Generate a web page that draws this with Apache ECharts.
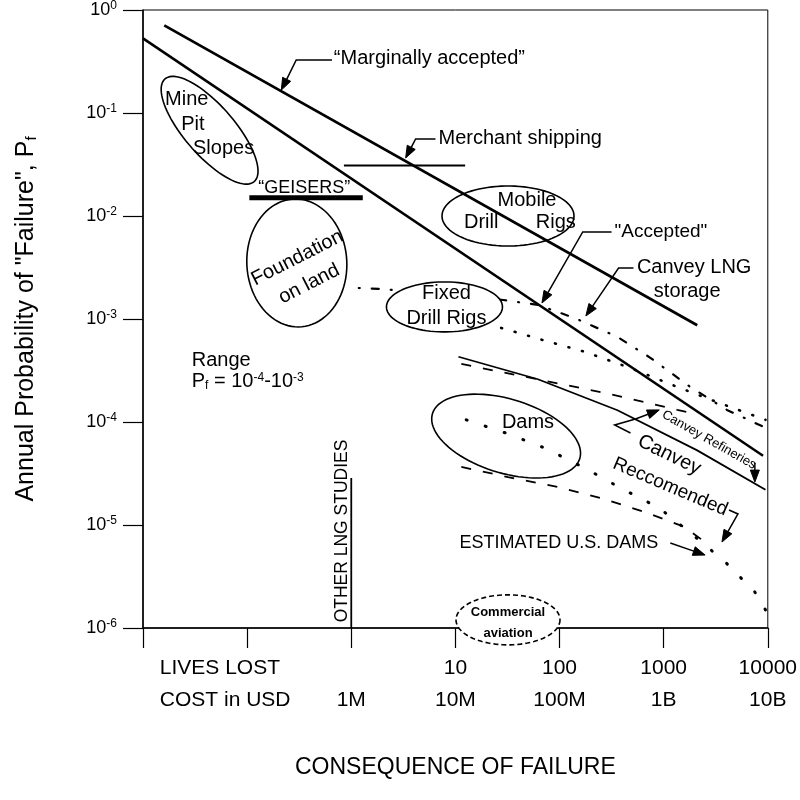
<!DOCTYPE html>
<html>
<head>
<meta charset="utf-8">
<script src="https://cdn.jsdelivr.net/npm/echarts@6/dist/echarts.min.js"></script>
<style>html,body{margin:0;padding:0;background:#fff}#chart{width:800px;height:800px}</style>
</head>
<body>
<div id="chart"></div>
<script>
const FONT = '"Liberation Sans", Arial, Helvetica, sans-serif';

// ---- tick labels ----
const xTickValues = [0.01, 0.1, 1, 10, 100, 1000, 10000];
const livesLostLabels = ['', '', '', '10', '100', '1000', '10000'];
const costLabels = ['', '', '1M', '10M', '100M', '1B', '10B'];
const rowHeaders = ['LIVES LOST', 'COST in USD'];
const yTickValues = [1, 1e-1, 1e-2, 1e-3, 1e-4, 1e-5, 1e-6];
const yTickExponents = ['0', '-1', '-2', '-3', '-4', '-5', '-6'];

// ---- series: [consequence (lives), annual probability of failure] ----
const marginallyAccepted = [[0.016, 0.71], [2100, 8.7e-4]];
const accepted = [[0.01, 0.53], [9000, 4.7e-5]];
const merchantShipping = [[0.85, 0.031], [12.4, 0.031]];
const geisers = [[0.105, 0.015], [1.29, 0.015]];
const canveyLngStorage = [[1.18, 2.0e-3], [2.05, 1.95e-3], [28.8, 1.53e-3], [62, 1.37e-3], [140, 1.02e-3], [360, 6.7e-4], [745, 4.2e-4], [1800, 2.19e-4], [4050, 1.31e-4], [9500, 8.8e-5]];
const fixedRigsTrend = [[27.5, 8.2e-4], [69, 6.25e-4], [175, 4.8e-4], [480, 3.34e-4], [1350, 2.19e-4], [3260, 1.56e-4], [9500, 1.05e-4]];
const canveyRefineries = [[11.4, 3.66e-4], [66, 2.56e-4], [303, 1.87e-4], [1350, 1.31e-4], [1680, 1.25e-4]];
const canveyRecommended = [[10.7, 4.3e-4], [62, 2.6e-4], [360, 1.3e-4], [2100, 5.3e-5], [9500, 2.2e-5]];
const damsTrend = [[12.7, 1.05e-4], [30.7, 7.8e-5], [72, 5.6e-5], [175, 3.57e-5], [385, 2.29e-5], [908, 1.46e-5], [1800, 8.4e-6], [3880, 4.4e-6], [7500, 2.24e-6], [9500, 1.5e-6]];
const estimatedUsDams = [[11.4, 3.66e-5], [32, 2.92e-5], [96, 2.34e-5], [248, 1.83e-5], [653, 1.34e-5], [1570, 9.6e-6], [2730, 6.4e-6]];
const otherLngStudies = [[1, 2.86e-5], [1, 1e-6]];

// ---- regions (centres in data space) ----
const regionNames = ['Mine Pit Slopes', 'Foundation on land', 'Mobile Drill Rigs', 'Fixed Drill Rigs', 'Dams', 'Commercial aviation'];
const regionCenters = [[0.0436, 0.068], [0.30, 3.5e-3], [32, 0.01], [7.85, 1.31e-3], [30.7, 7.3e-5], [32, 1.2e-6]];

const chart = echarts.init(document.getElementById('chart'), null, { renderer: 'canvas' });

function lineSeries(name, data, style) {
  return { name, type: 'line', data, symbol: 'none', silent: true, z: 3,
    lineStyle: Object.assign({ color: '#000', width: 2 }, style) };
}

const option = {
  animation: false,
  backgroundColor: '#fff',
  grid: { left: 143, right: 29, top: 10, bottom: 172, show: true, borderColor: '#000', borderWidth: 1, backgroundColor: 'transparent' },
  xAxis: {
    type: 'log', logBase: 10, min: 0.01, max: 10000, splitNumber: 6,
    axisLine: { lineStyle: { color: '#000', width: 1.5 } },
    axisTick: { length: 20, lineStyle: { color: '#000', width: 1.2 } },
    splitLine: { show: false },
    axisLabel: {
      margin: 24, color: '#000', fontFamily: FONT, fontSize: 21, lineHeight: 32,
      formatter: function (v) {
        const e = Math.round(Math.log10(v));
        const i = xTickValues.findIndex(t => Math.round(Math.log10(t)) === e);
        if (i < 0) return '';
        if (!livesLostLabels[i] && !costLabels[i]) return '';
        return (livesLostLabels[i] || ' ') + '\n' + (costLabels[i] || ' ');
      }
    },
    name: 'CONSEQUENCE OF FAILURE', nameLocation: 'middle', nameGap: 128,
    nameTextStyle: { color: '#000', fontFamily: FONT, fontSize: 23 }
  },
  yAxis: {
    type: 'log', logBase: 10, min: 1e-6, max: 1, splitNumber: 6,
    axisLine: { lineStyle: { color: '#000', width: 1.5 } },
    axisTick: { length: 20, lineStyle: { color: '#000', width: 1.2 } },
    splitLine: { show: false },
    axisLabel: {
      margin: 26, color: '#000',
      formatter: function (v) {
        const e = Math.round(Math.log10(v));
        const i = yTickValues.findIndex(t => Math.round(Math.log10(t)) === e);
        return '{b|10}{s|' + yTickExponents[i] + '}';
      },
      rich: {
        b: { fontFamily: FONT, fontSize: 18, lineHeight: 20, color: '#000' },
        s: { fontFamily: FONT, fontSize: 12, lineHeight: 10, verticalAlign: 'top', color: '#000' }
      }
    },
    name: 'Annual Probability of "Failure", P{sub|f}', nameLocation: 'middle', nameGap: 104,
    nameTextStyle: {
      color: '#000', fontFamily: FONT, fontSize: 25,
      rich: { sub: { fontFamily: FONT, fontSize: 15, verticalAlign: 'bottom', color: '#000' } }
    }
  },
  series: [
    lineSeries('Marginally accepted', marginallyAccepted, { width: 2.7 }),
    lineSeries('Accepted', accepted, { width: 2.5 }),
    lineSeries('Merchant shipping', merchantShipping, { width: 2 }),
    lineSeries('GEISERS', geisers, { width: 5 }),
    lineSeries('Canvey LNG storage', canveyLngStorage, { width: 2.2, type: [1, 12, 7, 12], cap: 'round' }),
    lineSeries('Fixed drill rigs', fixedRigsTrend, { width: 2.6, type: [1, 13], cap: 'round' }),
    lineSeries('Canvey refineries', canveyRefineries, { width: 1.8, type: [10, 12] }),
    lineSeries('Canvey recommended', canveyRecommended, { width: 1.8 }),
    lineSeries('Dams', damsTrend, { width: 3, type: [1, 19], cap: 'round' }),
    lineSeries('Estimated U.S. dams', estimatedUsDams, { width: 1.8, type: [10, 12] }),
    lineSeries('Other LNG studies', otherLngStudies, { width: 1.8 })
  ]
};
chart.setOption(option);

// ---- annotations anchored in data space ----
const toPx = d => chart.convertToPixel({ xAxisIndex: 0, yAxisIndex: 0 }, d);
const G = [];

const regionShapes = [
  { rx: 68, ry: 25, rot: 49 },
  { rx: 50, ry: 64, rot: -3 },
  { rx: 66, ry: 30, rot: 0 },
  { rx: 58, ry: 25, rot: 0, fill: '#fff' },
  { rx: 77, ry: 37, rot: 17 },
  { rx: 52, ry: 25, rot: 0, fill: '#fff', dash: [5, 3] }
];
regionCenters.forEach((c, k) => {
  const s = regionShapes[k], p = toPx(c), th = s.rot * Math.PI / 180, pts = [];
  for (let i = 0; i < 90; i++) {
    const t = 2 * Math.PI * i / 90, dx = s.rx * Math.cos(t), dy = s.ry * Math.sin(t);
    pts.push([p[0] + dx * Math.cos(th) - dy * Math.sin(th), p[1] + dx * Math.sin(th) + dy * Math.cos(th)]);
  }
  G.push({ type: 'polygon', z: 40, silent: true, shape: { points: pts },
    style: { stroke: '#000', lineWidth: 1.6, fill: s.fill || 'none', lineDash: s.dash || null } });
});

const leaders = [
  [[0.653, 0.327], [0.296, 0.327], [0.213, 0.167]],
  [[6.44, 0.056], [4.15, 0.056], [3.33, 0.0366]],
  [[316, 7.0e-3], [167, 7.0e-3], [67.8, 1.43e-3]],
  [[513, 3.13e-3], [369, 3.13e-3], [179, 1.07e-3]],
  [[480, 7.82e-5], [338, 9.35e-5], [536, 1.07e-4], [908, 1.31e-4]],
  [[7510, 4.0e-5], [7510, 2.61e-5]],
  [[4240, 1.4e-5], [5170, 1.28e-5], [3630, 6.84e-6]],
  [[1158, 6.69e-6], [2500, 5.11e-6]]
];
leaders.forEach(path => {
  const p = path.map(toPx);
  const a = p[p.length - 2], b = p[p.length - 1];
  const ang = Math.atan2(b[1] - a[1], b[0] - a[0]);
  const L = 12, W = 4.5;
  const bx = b[0] - L * Math.cos(ang), by = b[1] - L * Math.sin(ang);
  const line = p.slice(0, -1).concat([[bx, by]]);
  G.push({ type: 'polyline', z: 45, silent: true, shape: { points: line }, style: { stroke: '#000', lineWidth: 1.5, fill: 'none' } });
  G.push({ type: 'polygon', z: 45, silent: true,
    shape: { points: [b, [bx - W * Math.sin(ang), by + W * Math.cos(ang)], [bx + W * Math.sin(ang), by - W * Math.cos(ang)]] },
    style: { fill: '#000', stroke: '#000', lineWidth: 1 } });
});

const notes = [
  { t: '\u201cMarginally accepted\u201d', at: [0.68, 0.342], align: 'left' },
  { t: 'Merchant shipping', at: [6.88, 0.0572], align: 'left' },
  { t: '\u201cGEISERS\u201d', at: [0.353, 0.0187], size: 18 },
  { t: 'Mobile', at: [48.7, 0.0143] },
  { t: 'Drill', at: [17.7, 8.74e-3] },
  { t: 'Rigs', at: [92.2, 8.74e-3] },
  { t: '"Accepted"', at: [338, 7.0e-3], align: 'left', size: 19 },
  { t: 'Canvey LNG', at: [1963, 3.13e-3] },
  { t: 'storage', at: [1683, 1.83e-3] },
  { t: 'Fixed', at: [8.2, 1.75e-3] },
  { t: 'Drill Rigs', at: [8.2, 1.02e-3] },
  { t: 'Foundation', at: [0.303, 3.91e-3], rot: 27 },
  { t: 'on land', at: [0.394, 2.19e-3], rot: 27 },
  { t: 'Mine', at: [0.0263, 0.134] },
  { t: 'Pit', at: [0.0301, 0.0782] },
  { t: 'Slopes', at: [0.0594, 0.0457] },
  { t: 'Range', at: [0.0294, 4.0e-4], align: 'left' },
  { t: 'P{sub|f} = 10{sup|-4}-10{sup|-3}', at: [0.0294, 2.45e-4], align: 'left', rich: true },
  { t: 'Dams', at: [49.8, 9.8e-5] },
  { t: 'Canvey Refineries', at: [2730, 6.69e-5], rot: -29.6, size: 13 },
  { t: 'Canvey', at: [1132, 4.78e-5], rot: -26 },
  { t: 'Reccomended', at: [1158, 2.34e-5], rot: -23, size: 19 },
  { t: 'ESTIMATED U.S. DAMS', at: [98.4, 6.69e-6], size: 18 },
  { t: 'OTHER LNG STUDIES', at: [0.815, 8.75e-6], rot: 90, size: 17.5 },
  { t: 'Commercial', at: [32, 1.43e-6], size: 13, bold: true },
  { t: 'aviation', at: [32, 8.9e-7], size: 13, bold: true }
];
notes.forEach(n => {
  const p = toPx(n.at);
  const size = n.size || 20;
  const style = {
    text: n.t, x: 0, y: 0, fill: '#000',
    fontFamily: FONT, fontSize: size, fontWeight: n.bold ? 'bold' : 'normal',
    align: n.align || 'center', verticalAlign: 'middle',
    textAlign: n.align || 'center', textVerticalAlign: 'middle'
  };
  if (n.rich) {
    style.rich = {
      sub: { fontFamily: FONT, fontSize: 12, lineHeight: 10, verticalAlign: 'bottom', fill: '#000' },
      sup: { fontFamily: FONT, fontSize: 12, lineHeight: 10, verticalAlign: 'top', fill: '#000' }
    };
  }
  G.push({ type: 'text', z: 50, silent: true, x: p[0], y: p[1], rotation: (n.rot || 0) * Math.PI / 180, style });
});

// row headers of the consequence axis
const axisY = toPx([1, 1e-6])[1];
const headerX = toPx([0.0145, 1e-6])[0];
rowHeaders.forEach((h, i) => {
  G.push({ type: 'text', z: 50, silent: true, x: headerX, y: axisY + 24 + 16 + 32 * i,
    style: { text: h, x: 0, y: 0, fill: '#000', fontFamily: FONT, fontSize: 21,
      align: 'left', verticalAlign: 'middle', textAlign: 'left', textVerticalAlign: 'middle' } });
});

chart.setOption({ graphic: { elements: G } });
</script>
</body>
</html>
